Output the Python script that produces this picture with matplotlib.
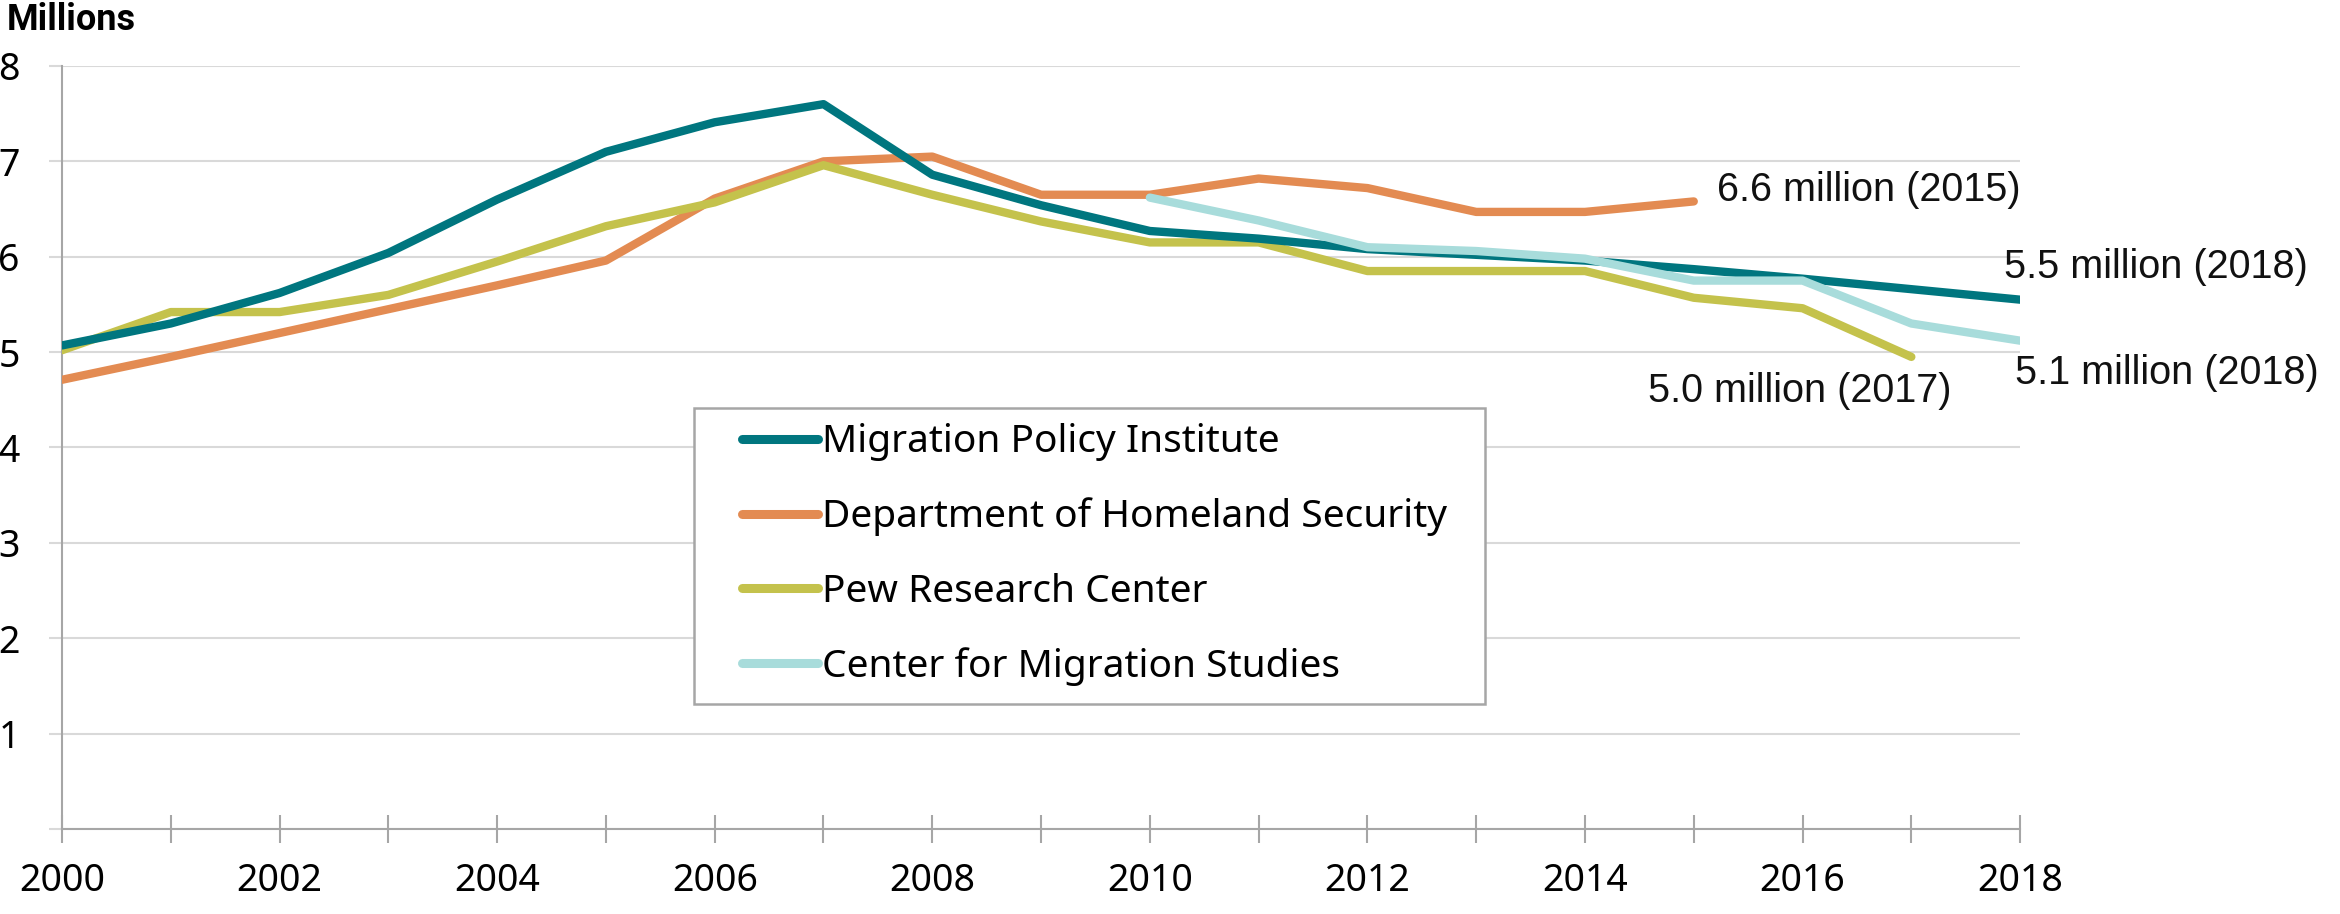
import matplotlib as mpl
mpl.use("Agg")
import matplotlib.pyplot as plt
from matplotlib.patches import Rectangle
from matplotlib.ticker import MultipleLocator

# years and the four estimates (millions)
years = list(range(2000, 2019))
mpi = [5.07, 5.30, 5.62, 6.04, 6.60, 7.10, 7.41, 7.60, 6.86, 6.54, 6.27,
       6.19, 6.08, 6.02, 5.96, 5.87, 5.77, 5.66, 5.55]
dhs_years = list(range(2000, 2016))
dhs = [4.71, 4.95, 5.20, 5.45, 5.70, 5.96, 6.61, 7.00, 7.05, 6.65, 6.65,
       6.82, 6.72, 6.47, 6.47, 6.58]
pew_years = list(range(2000, 2018))
pew = [5.02, 5.42, 5.42, 5.60, 5.95, 6.32, 6.57, 6.96, 6.65, 6.37, 6.15,
       6.15, 5.85, 5.85, 5.85, 5.57, 5.46, 4.95]
cms_years = list(range(2010, 2019))
cms = [6.62, 6.38, 6.10, 6.06, 5.98, 5.75, 5.75, 5.30, 5.12]

labels = ["Migration Policy Institute", "Department of Homeland Security",
          "Pew Research Center", "Center for Migration Studies"]
colors = ["#00767f", "#e38b52", "#c4c24c", "#a8dcdb"]

plt.rcParams['font.family'] = ['Noto Sans', 'DejaVu Sans']

fig = plt.figure(figsize=(23.4, 9.14), dpi=100)
ax = fig.add_axes([0.0265, 0.0930, 0.8368, 0.8348])

lw = 6
ax.plot(years, mpi, color=colors[0], lw=lw, label=labels[0], solid_capstyle='round', zorder=4)
ax.plot(dhs_years, dhs, color=colors[1], lw=lw, label=labels[1], solid_capstyle='round', zorder=3)
ax.plot(pew_years, pew, color=colors[2], lw=lw, label=labels[2], solid_capstyle='round', zorder=3)
ax.plot(cms_years, cms, color=colors[3], lw=lw, label=labels[3], solid_capstyle='round', zorder=5)

ax.set_xlim(2000, 2018)
ax.set_ylim(0, 8)
ax.set_yticks(range(0, 9))
ax.set_yticklabels([""] + [str(i) for i in range(1, 9)])
ax.xaxis.set_major_locator(MultipleLocator(2))
ax.xaxis.set_minor_locator(MultipleLocator(1))
ax.set_xticks(range(2000, 2019, 2))
ax.set_xticklabels([str(y) for y in range(2000, 2019, 2)])

ax.yaxis.grid(True, color="#d9d9d9", lw=1.5)
ax.set_axisbelow(True)
for s in ["top", "right"]:
    ax.spines[s].set_visible(False)
for s in ["left", "bottom"]:
    ax.spines[s].set_color("#a6a6a6")
    ax.spines[s].set_linewidth(1.5)

ax.tick_params(axis='y', length=9.5, width=1.5, color="#d9d9d9", pad=21, labelsize=27)
ax.tick_params(axis='x', which='both', direction='inout', length=20, width=1.5,
               color="#a6a6a6", pad=14, labelsize=27)

# legend: frame drawn separately so the inner padding can match
ax.add_patch(Rectangle((0.3228, 0.1638), 0.404, 0.388, transform=ax.transAxes,
                       fill=True, facecolor="white", edgecolor="#a6a6a6", lw=1.8,
                       zorder=6))
leg = ax.legend(loc='center left', bbox_to_anchor=(0.3473, 0.3598), fontsize=28,
                frameon=False, handlelength=1.95, handletextpad=0.1,
                labelspacing=0.93, borderpad=0, borderaxespad=0)
leg.set_zorder(7)
for h in leg.get_lines():
    h.set_linewidth(6.5)

ann = dict(fontsize=28.5, family=['Liberation Sans', 'DejaVu Sans'], color="#111111")
ax.text(2015.21, 6.70, "6.6 million (2015)", ha='left', va='center', **ann)
ax.text(2017.85, 5.89, "5.5 million (2018)", ha='left', va='center', **ann)
ax.text(2017.37, 4.59, "5.0 million (2017)", ha='right', va='center', **ann)
ax.text(2017.95, 4.78, "5.1 million (2018)", ha='left', va='center', **ann)

fig.text(0.003, 1 - 20 / 914, "Millions", ha='left', va='center',
         fontsize=26, fontweight='bold', family=['Roboto', 'DejaVu Sans'])

fig.savefig("out.png", dpi=100)
